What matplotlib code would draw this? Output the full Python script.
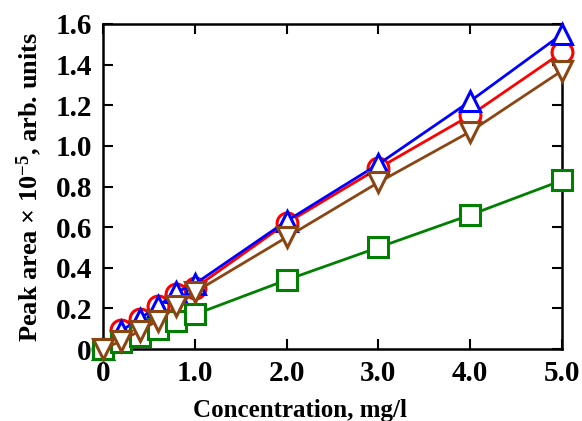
import matplotlib
matplotlib.use('Agg')
import matplotlib.pyplot as plt

# concentration, mg/l
conc = [0, 0.2, 0.4, 0.6, 0.8, 1.0, 2.0, 3.0, 4.0, 5.0]
# peak area x 1e-5
red_circ = [0, 0.095, 0.15, 0.21, 0.27, 0.30, 0.62, 0.89, 1.15, 1.46]
blue_tri = [0, 0.09, 0.15, 0.21, 0.28, 0.32, 0.63, 0.91, 1.22, 1.55]
green_sq = [0, 0.035, 0.065, 0.10, 0.14, 0.17, 0.34, 0.50, 0.66, 0.83]
brown_tri = [0, 0.04, 0.09, 0.14, 0.21, 0.28, 0.55, 0.82, 1.07, 1.37]

xticks = [0, 1, 2, 3, 4, 5]
xtick_labels = ['0', '1.0', '2.0', '3.0', '4.0', '5.0']
yticks = [0, 0.2, 0.4, 0.6, 0.8, 1.0, 1.2, 1.4, 1.6]
ytick_labels = ['0', '0.2', '0.4', '0.6', '0.8', '1.0', '1.2', '1.4', '1.6']

plt.rcParams['font.family'] = ['Liberation Serif', 'DejaVu Serif']
plt.rcParams['font.weight'] = 'bold'
plt.rcParams['mathtext.fontset'] = 'custom'
plt.rcParams['mathtext.rm'] = 'Liberation Serif:bold'
plt.rcParams['mathtext.it'] = 'Liberation Serif:bold'
plt.rcParams['mathtext.bf'] = 'Liberation Serif:bold'

fig = plt.figure(figsize=(5.82, 4.21), dpi=100)
ax = fig.add_axes([0.177, 0.171, 0.7886, 0.772])

series = [
    (red_circ, '#ff0000', 'o', 15),
    (blue_tri, '#0000ff', '^', 15),
    (green_sq, '#008000', 's', 14),
    (brown_tri, '#8b4513', 'v', 15),
]
for vals, col, mk, size in series:
    ax.plot(conc, vals, color=col, lw=2, marker=mk, ms=size,
            mfc='white', mec=col, mew=2.2, clip_on=False, zorder=3)

ax.set_xlim(0, 5)
ax.set_ylim(0, 1.6)
ax.set_xticks(xticks)
ax.set_xticklabels(xtick_labels)
ax.set_yticks(yticks)
ax.set_yticklabels(ytick_labels)
ax.tick_params(direction='in', length=7, width=1.5, labelsize=21,
               top=True, right=True, pad=8)
for lab in ax.get_xticklabels() + ax.get_yticklabels():
    lab.set_fontweight('bold')
for sp in ax.spines.values():
    sp.set_linewidth(1.8)

ax.set_xlabel('Concentration, mg/l', fontsize=18, fontweight='bold')
ax.xaxis.set_label_coords(0.43, -0.155)
ax.set_ylabel('Peak area $\\times$ 10$^{-5}$, arb. units', fontsize=19,
              fontweight='bold', labelpad=8)

fig.savefig('out.png', dpi=100)
